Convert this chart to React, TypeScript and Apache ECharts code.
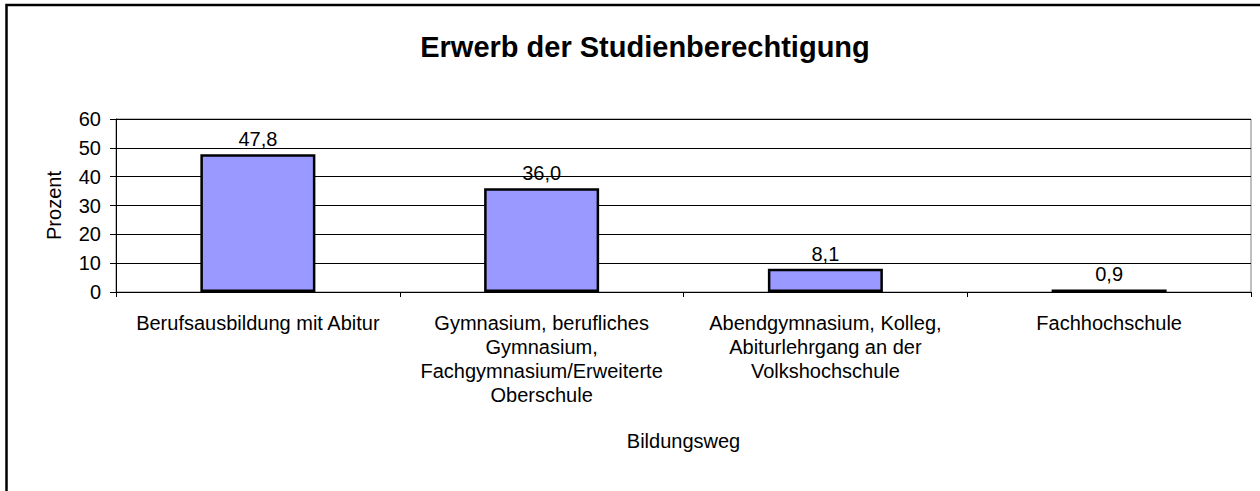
import React, { useEffect, useRef } from "react";
import * as echarts from "echarts";

const titleText = "Erwerb der Studienberechtigung";
const categories = [
  "Berufsausbildung mit Abitur",
  "Gymnasium, berufliches\nGymnasium,\nFachgymnasium/Erweiterte\nOberschule",
  "Abendgymnasium, Kolleg,\nAbiturlehrgang an der\nVolkshochschule",
  "Fachhochschule",
];
const values = [47.8, 36.0, 8.1, 0.9];
const yTicks = { min: 0, max: 60, interval: 10 };
const xName = "Bildungsweg";
const yName = "Prozent";

const FONT = "'Liberation Sans', Arial, sans-serif";
const FS = 20;

export default function App() {
  const ref = useRef<HTMLDivElement>(null);
  useEffect(() => {
    if (!ref.current) return;
    const chart = echarts.init(ref.current, undefined, { renderer: "svg" });
    chart.setOption({
      animation: false,
      backgroundColor: "#fff",
      textStyle: { fontFamily: FONT, color: "#000" },
      title: {
        text: titleText,
        left: 640,
        textAlign: "center",
        top: 27,
        textStyle: { fontFamily: FONT, fontSize: 29, fontWeight: "bold", color: "#000" },
      },
      graphic: [
        {
          type: "rect",
          shape: { x: 6.5, y: 5, width: 1400, height: 700 },
          style: { fill: "none", stroke: "#000", lineWidth: 2.5 },
          silent: true,
        },
      ],
      grid: {
        left: 116,
        right: 9,
        top: 119,
        bottom: 199,
        show: true,
        borderColor: "#808080",
        borderWidth: 1,
        backgroundColor: "transparent",
      },
      xAxis: {
        type: "category",
        data: categories,
        name: xName,
        nameLocation: "middle",
        nameGap: 139,
        nameTextStyle: { fontFamily: FONT, fontSize: FS, color: "#000" },
        axisLine: { lineStyle: { color: "#000", width: 1 } },
        axisTick: { show: true, alignWithLabel: false, length: 5, lineStyle: { color: "#000" } },
        axisLabel: {
          interval: 0,
          margin: 19,
          fontFamily: FONT,
          fontSize: FS,
          lineHeight: 24,
          color: "#000",
          align: "center",
        },
      },
      yAxis: {
        type: "value",
        min: yTicks.min,
        max: yTicks.max,
        interval: yTicks.interval,
        name: yName,
        nameLocation: "middle",
        nameGap: 52,
        nameRotate: 90,
        nameTextStyle: { fontFamily: FONT, fontSize: FS, color: "#000" },
        axisLine: { show: true, lineStyle: { color: "#000", width: 1 } },
        axisTick: { show: true, length: 6, lineStyle: { color: "#000" } },
        axisLabel: { margin: 15, fontFamily: FONT, fontSize: FS, color: "#000" },
        splitLine: { show: true, lineStyle: { color: "#000", width: 1 } },
      },
      series: [
        {
          type: "bar",
          data: values,
          barWidth: 115,
          itemStyle: { color: "#9999FF", borderColor: "#000", borderWidth: 2.5 },
          label: {
            show: true,
            position: "top",
            distance: 5,
            fontFamily: FONT,
            fontSize: FS,
            color: "#000",
            formatter: (p: any) => Number(p.value).toFixed(1).replace(".", ","),
          },
        },
      ],
    });
    return () => chart.dispose();
  }, []);
  return (
    <div
      ref={ref}
      style={{ position: "absolute", left: 0, top: 0, width: 1260, height: 491 }}
    />
  );
}
